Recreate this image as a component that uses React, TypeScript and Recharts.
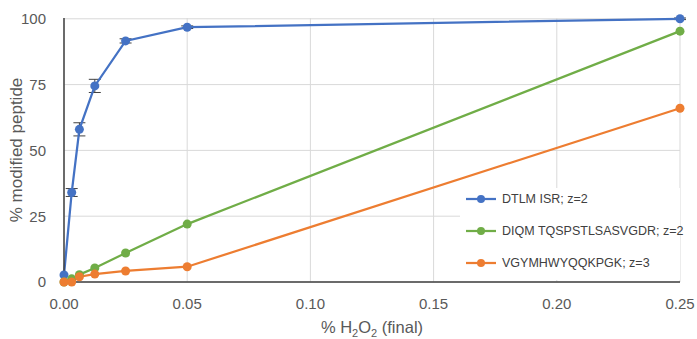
import React from "react";
import {
  CartesianGrid,
  ErrorBar,
  Label,
  Line,
  LineChart,
  XAxis,
  YAxis,
} from "recharts";

const concentrations = [0, 0.003125, 0.00625, 0.0125, 0.025, 0.05, 0.25];
const dtlmisr = [2.7, 34, 58, 74.5, 91.6, 96.8, 100];
const dtlmisrErr = [0, 1.5, 2.5, 2.5, 0.8, 0.5, 0.3];
const diqmtq = [0, 1.2, 2.8, 5.3, 11, 22, 95.3];
const vgymhw = [0, 0, 2, 3, 4.2, 5.8, 66];
const xTicks = [0, 0.05, 0.1, 0.15, 0.2, 0.25];
const yTicks = [0, 25, 50, 75, 100];

const seriesInfo = [
  { key: "dtlmisr", name: "DTLM ISR; z=2", color: "#4472C4" },
  { key: "diqmtq", name: "DIQM TQSPSTLSASVGDR; z=2", color: "#70AD47" },
  { key: "vgymhw", name: "VGYMHWYQQKPGK; z=3", color: "#ED7D31" },
];

const font = "'Liberation Sans', Arial, sans-serif";
const textColor = "#595959";

const data = concentrations.map((x, i) => ({
  x,
  dtlmisr: dtlmisr[i],
  dtlmisrErr: dtlmisrErr[i],
  diqmtq: diqmtq[i],
  vgymhw: vgymhw[i],
}));

function XTitle(props: any) {
  const vb = props.viewBox;
  const cx = vb.x + vb.width / 2;
  return (
    <text
      x={cx}
      y={vb.y + 51}
      textAnchor="middle"
      fontSize={16.5}
      fill={textColor}
      fontFamily={font}
    >
      <tspan>% H</tspan>
      <tspan fontSize={11} dy={4}>2</tspan>
      <tspan dy={-4}>O</tspan>
      <tspan fontSize={11} dy={4}>2</tspan>
      <tspan dy={-4}> (final)</tspan>
    </text>
  );
}

function ChartLegend() {
  return (
    <div
      style={{
        position: "absolute",
        left: 460,
        top: 188,
        width: 220,
        height: 92,
        background: "#fff",
        fontFamily: font,
        fontSize: 12.5,
        color: "#404040",
        whiteSpace: "nowrap",
      }}
    >
      {seriesInfo.map((s, i) => (
        <div
          key={s.key}
          style={{
            position: "absolute",
            left: 6,
            top: 2 + i * 32,
            height: 18,
            display: "flex",
            alignItems: "center",
          }}
        >
          <svg width={32} height={12} style={{ marginRight: 4 }}>
            <line x1={0} y1={6} x2={30} y2={6} stroke={s.color} strokeWidth={2.25} />
            <circle cx={15} cy={6} r={4} fill={s.color} />
          </svg>
          <span>{s.name}</span>
        </div>
      ))}
    </div>
  );
}

export default function App() {
  return (
    <div style={{ position: "fixed", left: 0, top: 0, width: 697, height: 339, background: "#fff" }}>
      <LineChart
        width={697}
        height={339}
        data={data}
        margin={{ top: 18, right: 17, left: 0, bottom: 0 }}
      >
        <CartesianGrid stroke="#d9d9d9" strokeWidth={1} horizontalValues={yTicks} verticalValues={xTicks} />
        <XAxis
          dataKey="x"
          type="number"
          domain={[0, 0.25]}
          ticks={xTicks}
          tickFormatter={(v: number) => v.toFixed(2)}
          height={57}
          axisLine={{ stroke: "#404040", strokeWidth: 1.5 }}
          tickLine={false}
          tick={{ fill: textColor, fontSize: 15, fontFamily: font }}
          tickMargin={10}
        >
          <Label content={<XTitle />} />
        </XAxis>
        <YAxis
          type="number"
          domain={[0, 100]}
          ticks={yTicks}
          width={64}
          axisLine={{ stroke: "#404040", strokeWidth: 1.5 }}
          tickLine={false}
          tick={{ fill: textColor, fontSize: 15, fontFamily: font }}
          tickMargin={12}
        >
          <Label
            value="% modified peptide"
            angle={-90}
            position="insideLeft"
            offset={16}
            style={{ textAnchor: "middle", fill: textColor, fontSize: 17, fontFamily: font }}
          />
        </YAxis>
        {seriesInfo.map((s) => (
          <Line
            key={s.key}
            type="linear"
            dataKey={s.key}
            name={s.name}
            stroke={s.color}
            strokeWidth={2.25}
            dot={{ r: 4.5, fill: s.color, stroke: s.color, strokeWidth: 0 }}
            activeDot={false}
            isAnimationActive={false}
          >
            {s.key === "dtlmisr" && (
              <ErrorBar dataKey="dtlmisrErr" width={6} stroke="#404040" strokeWidth={1} direction="y" />
            )}
          </Line>
        ))}
      </LineChart>
      <ChartLegend />
    </div>
  );
}
